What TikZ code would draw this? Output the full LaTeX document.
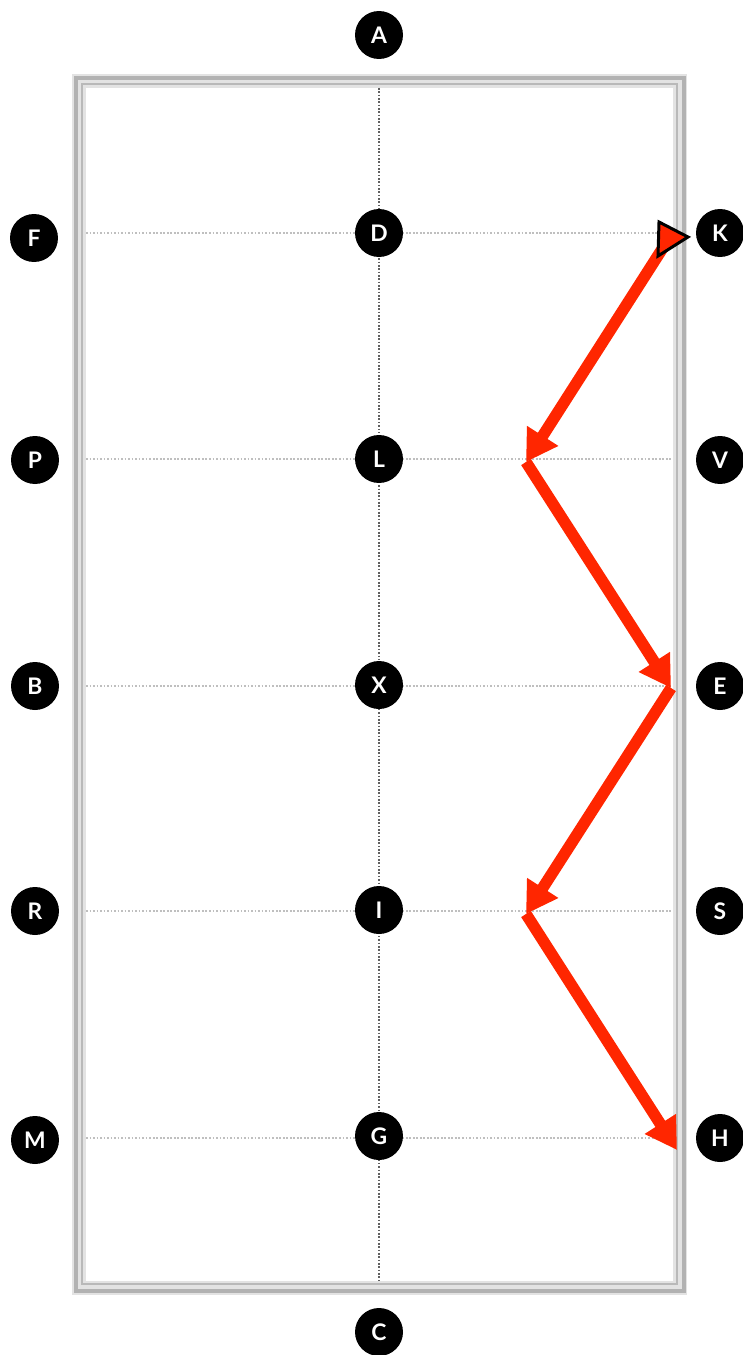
\documentclass[tikz,border=0pt]{standalone}
\usepackage{fontspec}
\setmainfont{Lato}
\usetikzlibrary{arrows.meta}
\definecolor{runred}{RGB}{255,38,0}

\begin{document}
\begin{tikzpicture}[
  x=0.02cm, y=-0.02cm, >=Triangle,
  every node/.style={font=\fontsize{13}{15}\selectfont\bfseries},
  spot/.style={circle, fill=black, text=white, inner sep=0pt, minimum size=0.96cm},
  guide/.style={gray!50, densely dotted, line width=1pt},
  axis/.style={gray!75!black, densely dotted, line width=0.9pt},
  run/.style={runred, line width=0.23cm, -{Triangle[length=0.62cm, width=0.7cm]}},
]
\useasboundingbox (0,0) rectangle (743,1355);

% frame
\draw[gray!22, line width=0.28cm] (79,81) rectangle (680,1288);
\draw[gray!60, line width=0.09cm] (76,78) rectangle (684,1291);
\draw[gray!55, line width=0.05cm] (82,84) rectangle (677,1284);

% guide lines
\draw[axis] (379,88) -- (379,1281);
\foreach \y in {233,459,686,911,1138}
  \draw[guide] (86,\y) -- (672,\y);

% markers
\node[spot] (a) at (379,35) {A};
\node[spot] (f) at (34,238) {F};
\node[spot] (d) at (379,233) {D};
\node[spot] (k) at (720,233) {K};
\node[spot] (p) at (35,460) {P};
\node[spot] (l) at (379,459) {L};
\node[spot] (v) at (720,460) {V};
\node[spot] (b) at (35,686) {B};
\node[spot] (x) at (379,685) {X};
\node[spot] (e) at (720,686) {E};
\node[spot] (r) at (35,911) {R};
\node[spot] (i) at (379,910) {I};
\node[spot] (s) at (720,911) {S};
\node[spot] (m) at (35,1140) {M};
\node[spot] (g) at (379,1136) {G};
\node[spot] (h) at (720,1138) {H};
\node[spot] (c) at (379,1332) {C};

% serpentine run
\coordinate (r0) at (666,243);
\coordinate (r1) at (526,462);
\coordinate (r2) at (671,688);
\coordinate (r3) at (526,914);
\coordinate (r4) at (677,1150);
\draw[run] (r0) -- (r1);
\draw[run] (r1) -- (r2);
\draw[run] (r2) -- (r3);
\draw[run] (r3) -- (r4);
\filldraw[fill=runred, draw=black, line width=0.06cm, line join=miter]
  (659,222) -- (688,237) -- (658,256) -- cycle;
\end{tikzpicture}
\end{document}
